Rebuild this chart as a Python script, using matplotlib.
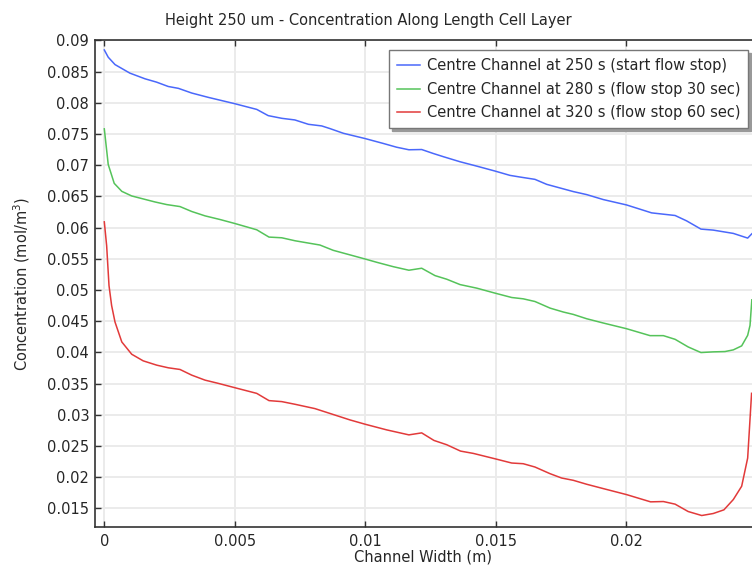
import matplotlib
matplotlib.use("Agg")
import matplotlib.pyplot as plt

title = "Height 250 um - Concentration Along Length Cell Layer"
xlabel = "Channel Width (m)"
ylabel = "Concentration (mol/m$^3$)"
labels = ["Centre Channel at 250 s (start flow stop)",
          "Centre Channel at 280 s (flow stop 30 sec)",
          "Centre Channel at 320 s (flow stop 60 sec)"]
colors = ["#4a68fb", "#55c35a", "#e23a3a"]

xticks = [0, 0.005, 0.01, 0.015, 0.02]
xticklabels = ["0", "0.005", "0.01", "0.015", "0.02"]
yticks = [0.015, 0.02, 0.025, 0.03, 0.035, 0.04, 0.045, 0.05, 0.055, 0.06,
          0.065, 0.07, 0.075, 0.08, 0.085, 0.09]
yticklabels = ["0.015", "0.02", "0.025", "0.03", "0.035", "0.04", "0.045", "0.05",
               "0.055", "0.06", "0.065", "0.07", "0.075", "0.08", "0.085", "0.09"]

x_250 = [0, 0.00015, 0.00041, 0.00098, 0.00156, 0.0020, 0.00245, 0.00284, 0.00335,
         0.00399, 0.0050, 0.00584, 0.00628, 0.0068, 0.0073, 0.00782, 0.00833, 0.00865,
         0.00916, 0.00999, 0.0107, 0.0112, 0.01167, 0.01216, 0.0126, 0.013, 0.01363,
         0.01427, 0.01497, 0.01554, 0.01593, 0.0165, 0.01695, 0.01797, 0.01848,
         0.01912, 0.02001, 0.02097, 0.02187, 0.02231, 0.02286, 0.02333, 0.0241,
         0.02465, 0.02481]
c_250 = [0.08845, 0.08729, 0.08611, 0.08474, 0.08383, 0.0833, 0.0826, 0.0823, 0.08155,
         0.08085, 0.07984, 0.07893, 0.07793, 0.0775, 0.07724, 0.07654, 0.07628, 0.07585,
         0.0751, 0.07426, 0.07346, 0.07287, 0.07246, 0.0725, 0.07187, 0.07134, 0.07054,
         0.06984, 0.06905, 0.06836, 0.06809, 0.06772, 0.06692, 0.06576, 0.06528,
         0.06448, 0.06362, 0.06235, 0.06193, 0.06107, 0.05975, 0.05959, 0.05906,
         0.05831, 0.0590]

x_280 = [0, 0.00015, 0.00038, 0.00067, 0.00105, 0.00194, 0.00239, 0.0029, 0.00335,
         0.00386, 0.00443, 0.005, 0.00584, 0.00631, 0.0068, 0.00731, 0.00788, 0.00826,
         0.00877, 0.00929, 0.00999, 0.01044, 0.01107, 0.01167, 0.01216, 0.01267,
         0.01312, 0.01363, 0.01427, 0.01497, 0.01561, 0.01605, 0.0165, 0.01708,
         0.01759, 0.01797, 0.01848, 0.01912, 0.02001, 0.02091, 0.02142, 0.02187,
         0.02237, 0.02286, 0.02333, 0.02378, 0.0241, 0.02442, 0.02465, 0.02474, 0.02481]
c_280 = [0.07581, 0.0701, 0.06708, 0.0658, 0.06506, 0.0641, 0.06368, 0.06336, 0.06257,
         0.06187, 0.06129, 0.06065, 0.05964, 0.05847, 0.05836, 0.05788, 0.05747, 0.0572,
         0.05635, 0.05576, 0.05496, 0.05443, 0.05373, 0.05316, 0.05348, 0.0523,
         0.05172, 0.05086, 0.05029, 0.04949, 0.04879, 0.04858, 0.04815, 0.04709,
         0.04646, 0.04608, 0.04539, 0.0447, 0.04379, 0.04268, 0.04268, 0.04209,
         0.04087, 0.03997, 0.04008, 0.04013, 0.0404, 0.04104, 0.04273, 0.04432, 0.04842]

x_320 = [0, 0.00009, 0.00018, 0.00028, 0.00041, 0.00067, 0.00105, 0.00149, 0.00201,
         0.00245, 0.0029, 0.00335, 0.00386, 0.00437, 0.005, 0.00584, 0.00631, 0.0068,
         0.00731, 0.00807, 0.0089, 0.00941, 0.00999, 0.01082, 0.01167, 0.01216,
         0.01263, 0.01312, 0.01365, 0.01414, 0.01497, 0.01561, 0.01605, 0.0165,
         0.01708, 0.01752, 0.01797, 0.01848, 0.01912, 0.02001, 0.02093, 0.02142,
         0.02187, 0.02237, 0.02289, 0.02333, 0.02374, 0.0241, 0.02442, 0.02465, 0.0248]
c_320 = [0.06091, 0.05708, 0.0507, 0.04751, 0.04486, 0.04167, 0.0397, 0.03864, 0.03795,
         0.03753, 0.03726, 0.03635, 0.03555, 0.03503, 0.03434, 0.03343, 0.03227, 0.03211,
         0.03168, 0.03099, 0.02987, 0.02918, 0.02849, 0.02758, 0.02678, 0.0271,
         0.02589, 0.0252, 0.02418, 0.02381, 0.02295, 0.02227, 0.02216, 0.02163,
         0.02056, 0.01987, 0.0195, 0.01887, 0.01817, 0.01721, 0.01605, 0.0161,
         0.01568, 0.0145, 0.01386, 0.01418, 0.01477, 0.01642, 0.01855, 0.02307, 0.03344]

W, H = 752, 567
fig = plt.figure(figsize=(W / 100, H / 100), dpi=100)
ax = fig.add_axes([94.7 / W, 1 - 527 / H, (W - 94.7) / W, (527 - 40.3) / H])

txt_color = "#262626"
for xs, cs, lab, col in zip([x_250, x_280, x_320], [c_250, c_280, c_320], labels, colors):
    ax.plot(xs, cs, color=col, lw=1.1, label=lab)

ax.set_xlim(-0.000368, 0.024816)
ax.set_ylim(0.01202, 0.09)
ax.set_xticks(xticks)
ax.set_xticklabels(xticklabels)
ax.set_yticks(yticks)
ax.set_yticklabels(yticklabels)
ax.grid(True, color="#ebebeb", lw=1.4)
ax.set_axisbelow(True)
ax.tick_params(axis="both", direction="in", length=4, width=1, color="#333333",
               labelsize=10.5, labelcolor=txt_color)
ax.tick_params(axis="x", top=True, pad=5)
ax.tick_params(axis="y", pad=4)
for s in ["left", "bottom", "top"]:
    ax.spines[s].set_color("#333333")
    ax.spines[s].set_linewidth(1.2)
ax.spines["right"].set_visible(False)

ax.set_ylabel(ylabel, fontsize=10.5, color=txt_color, labelpad=11)
fig.text((94.7 + W) / 2 / W, 1 - 557 / H, xlabel, ha="center", va="center",
         fontsize=10.5, color=txt_color)
fig.text(368 / W, 1 - 20 / H, title, ha="center", va="center", fontsize=10.5,
         color=txt_color)

leg = ax.legend(loc="upper right", bbox_to_anchor=(748 / W, 1 - 50 / H),
                bbox_transform=fig.transFigure, borderaxespad=0, fancybox=False,
                shadow={"color": "0.6", "alpha": 1}, framealpha=1, fontsize=10.5,
                handlelength=1.6, handletextpad=0.45, labelspacing=0.6,
                borderpad=0.54)
leg.get_frame().set_edgecolor("#777777")
leg.get_frame().set_linewidth(1.0)
for t in leg.get_texts():
    t.set_color(txt_color)

fig.savefig("out.png", dpi=100)
